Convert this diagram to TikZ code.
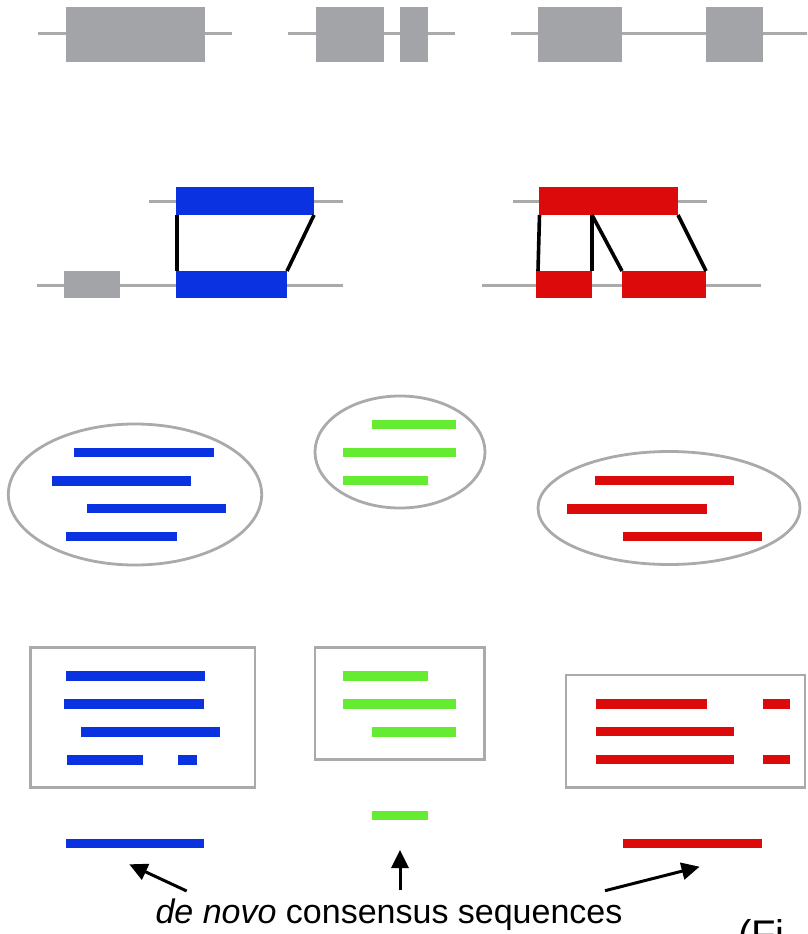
\documentclass[tikz,border=0pt]{standalone}
\usepackage{fontspec}
\setmainfont{Liberation Sans}
\usetikzlibrary{arrows.meta}

\definecolor{readblue}{RGB}{10,50,225}
\definecolor{readred}{RGB}{220,10,10}
\definecolor{readgreen}{RGB}{100,235,50}
\definecolor{exongray}{RGB}{162,164,167}
\definecolor{wiregray}{RGB}{170,170,170}

% a read: colour, x from, x to, centre y
\newcommand\readbar[4]{\fill[#1] (#2,{#4-4.75}) rectangle (#3,{#4+4.75});}

\begin{document}
\begin{tikzpicture}[x=1pt,y=-1pt,
  gene/.style={draw=wiregray,line width=3pt},
  exon/.style={fill=exongray},
  frame/.style={draw=wiregray,line width=2.8pt},
  seg/.style={rectangle,inner sep=0pt,outer sep=0pt,anchor=north west,draw=none},
  link/.style={draw=black,line width=3.6pt},
  pointer/.style={draw=black,line width=3pt,-{Triangle[length=18pt,width=17pt]}},
  caption/.style={inner sep=0pt,anchor=base,font=\fontsize{34}{40}\selectfont}
]
\useasboundingbox (0,0) rectangle (807,934);
\clip (0,0) rectangle (807,934);

% ---- gene models ----
\draw[gene] (38,34) -- (232,34);
\fill[exon] (66,7) rectangle (205,62);

\draw[gene] (288,34) -- (455,34);
\fill[exon] (316,7) rectangle (384,62);
\fill[exon] (400,7) rectangle (428,62);

\draw[gene] (511,34) -- (810,34);
\fill[exon] (538,7) rectangle (622,62);
\fill[exon] (706,7) rectangle (763,62);

% ---- blue alignment ----
\draw[gene] (149,201.5) -- (343,201.5);
\draw[gene] (37,285.5) -- (343,285.5);
\fill[exon] (64,271) rectangle (120,298);
\node[seg,fill=readblue,minimum width=138pt,minimum height=28pt] (bT) at (176,187) {};
\node[seg,fill=readblue,minimum width=111pt,minimum height=27pt] (bB) at (176,271) {};
\draw[link] ([xshift=1pt]bT.south west) -- ([xshift=1pt]bB.north west);
\draw[link] (bT.south east) -- (bB.north east);

% ---- red alignment ----
\draw[gene] (513,201.5) -- (707,201.5);
\draw[gene] (482,285.5) -- (761,285.5);
\node[seg,fill=readred,minimum width=139pt,minimum height=28pt] (rT) at (539,187) {};
\node[seg,fill=readred,minimum width=56pt,minimum height=27pt] (rB1) at (536,271) {};
\node[seg,fill=readred,minimum width=84pt,minimum height=27pt] (rB2) at (622,271) {};
\coordinate (rsplit) at (rB1.north east |- rT.south);
\draw[link] ([xshift=0.5pt]rT.south west) -- ([xshift=2pt]rB1.north west);
\draw[link] (rsplit) -- (rB1.north east);
\draw[link] (rsplit) -- (rB2.north west);
\draw[link] (rT.south east) -- (rB2.north east);

% ---- read clusters ----
\draw[frame] (135,494.5) ellipse [x radius=126.7pt, y radius=70.5pt];
\readbar{readblue}{74}{213.7}{452.5}
\readbar{readblue}{52.3}{191.3}{481}
\readbar{readblue}{87.3}{226.3}{508.5}
\readbar{readblue}{65.7}{176.7}{536.5}

\draw[frame] (400,452) ellipse [x radius=85pt, y radius=56pt];
\readbar{readgreen}{371.7}{455.7}{424.7}
\readbar{readgreen}{343.3}{455.7}{452.7}
\readbar{readgreen}{343.3}{427.7}{480.7}

\draw[frame] (669,508) ellipse [x radius=131pt, y radius=56.5pt];
\readbar{readred}{595}{734.3}{480.7}
\readbar{readred}{567.3}{706.7}{509}
\readbar{readred}{623.3}{762.3}{536.7}

% ---- assembled clusters ----
\draw[frame] (30.7,647.3) rectangle (255,787.3);
\readbar{readblue}{65.7}{204.7}{676}
\readbar{readblue}{64.3}{203.7}{704}
\readbar{readblue}{81}{220.3}{732}
\readbar{readblue}{66.7}{143}{760}
\readbar{readblue}{177.7}{197.3}{760}

\draw[frame] (315,647.3) rectangle (484.3,759.3);
\readbar{readgreen}{343.3}{427.7}{676}
\readbar{readgreen}{343.3}{455.7}{704}
\readbar{readgreen}{371.7}{455.7}{732}

\draw[frame] (566,675) rectangle (805,787.7);
\readbar{readred}{595.7}{706.7}{704.2}
\readbar{readred}{762.7}{790}{704.2}
\readbar{readred}{595.7}{734.3}{731.7}
\readbar{readred}{595.7}{734.3}{759.7}
\readbar{readred}{762.7}{790}{759.7}

% ---- consensus sequences ----
\readbar{readblue}{65.7}{204.3}{843.7}
\readbar{readgreen}{371.7}{427.7}{815.7}
\readbar{readred}{623}{762}{843.5}

% ---- caption and pointers ----
\node[caption] (cap) at (389,923) {\textit{de novo} consensus sequences};
\coordinate (bTail) at (186.7,891);
\coordinate (bHead) at (129.3,864.3);
\coordinate (gTail) at (400,890);
\coordinate (gHead) at (400,850);
\coordinate (rTail) at (605,890.7);
\coordinate (rHead) at (699.6,866.7);
\draw[pointer] (bTail) -- (bHead);
\draw[pointer] (gTail) -- (gHead);
\draw[pointer] (rTail) -- (rHead);

\node[inner sep=0pt,anchor=base west,font=\fontsize{40}{46}\selectfont] (fig) at (738,948) {(Fi};
\end{tikzpicture}
\end{document}
